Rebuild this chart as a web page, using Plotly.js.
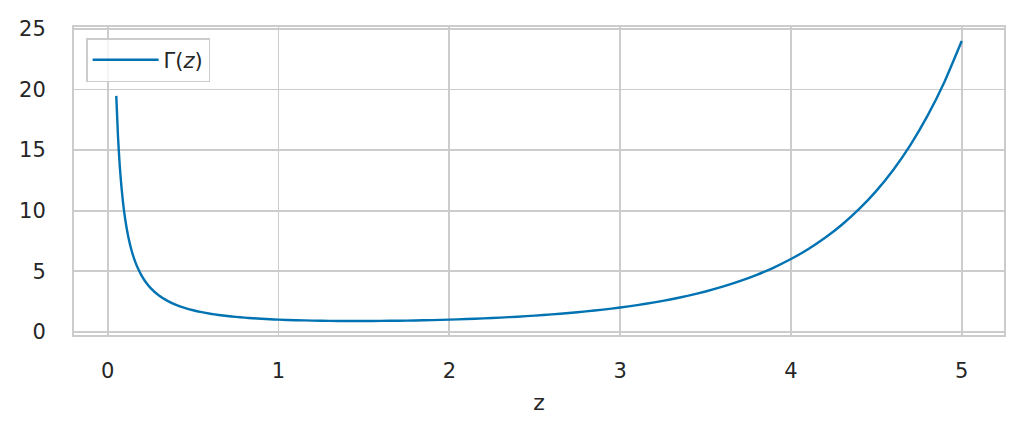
<!DOCTYPE html>
<html>
<head>
<meta charset="utf-8">
<script src="https://cdn.plot.ly/plotly-3.0.1.min.js"></script>
<style>html,body{margin:0;padding:0;background:#fff;}#chart{width:1024px;height:439px;}</style>
</head>
<body>
<div id="chart"></div>
<script>
const zValues = [0.05,0.06,0.07,0.08,0.09,0.10,0.12,0.14,0.16,0.18,0.20,0.22,0.25,0.30,0.35,0.40,0.45,0.50,0.55,0.60,0.65,0.70,0.75,0.80,0.85,0.90,0.95,1.0,1.1,1.2,1.3,1.4,1.5,1.6,1.7,1.8,1.9,2.0,2.1,2.2,2.3,2.4,2.5,2.6,2.7,2.8,2.9,3.0,3.1,3.2,3.3,3.4,3.5,3.6,3.7,3.8,3.9,4.0,4.1,4.2,4.3,4.4,4.5,4.6,4.7,4.8,4.9,5.0];
const gammaValues = [19.470,16.145,13.773,11.997,10.616,9.514,7.862,6.688,5.812,5.133,4.591,4.153,3.626,2.992,2.546,2.218,1.968,1.772,1.616,1.489,1.385,1.298,1.225,1.164,1.113,1.069,1.032,1.000,0.951,0.918,0.897,0.887,0.886,0.894,0.909,0.931,0.962,1.000,1.047,1.102,1.167,1.242,1.329,1.430,1.545,1.676,1.827,2.000,2.198,2.424,2.683,2.981,3.323,3.717,4.171,4.694,5.299,6.000,6.813,7.757,8.855,10.136,11.632,13.381,15.431,17.837,20.667,24.000];
const xTicks = [0,1,2,3,4,5];
const yTicks = [0,5,10,15,20,25];
const seriesName = "Γ(<i>z</i>)";
const xTitle = "z";

const trace = {
  x: zValues, y: gammaValues, type: 'scatter', mode: 'lines', name: seriesName,
  line: {color: '#0173b2', width: 2.4, shape: 'spline', smoothing: 0.5}
};
const axisCommon = {
  showline: true, linecolor: '#cccccc', linewidth: 2, mirror: true,
  showgrid: true, gridcolor: '#cccccc', gridwidth: 1.8, zeroline: false,
  ticks: '', tickfont: {family: 'DejaVu Sans', size: 21, color: '#262626'}
};
const layout = {
  width: 1024, height: 439,
  margin: {l: 74, r: 20, t: 27, b: 104},
  paper_bgcolor: '#ffffff', plot_bgcolor: '#ffffff',
  font: {family: 'DejaVu Sans', color: '#262626'},
  xaxis: Object.assign({}, axisCommon, {
    range: [-0.1975, 5.2475], tickvals: xTicks, ticktext: xTicks.map(String),
    ticklabelstandoff: 16,
    title: {text: xTitle, font: {family: 'DejaVu Sans', size: 22, color: '#262626'}, standoff: 12}
  }),
  yaxis: Object.assign({}, axisCommon, {
    range: [-0.27, 25.16], tickvals: yTicks, ticktext: yTicks.map(String),
    ticklabelstandoff: 22
  }),
  showlegend: true,
  legend: {
    x: 0.013, y: 0.964, xanchor: 'left', yanchor: 'top',
    bgcolor: 'rgba(255,255,255,0.8)', bordercolor: '#cccccc', borderwidth: 1.5,
    font: {family: 'DejaVu Sans', size: 21, color: '#262626'},
    itemwidth: 66
  }
};
Plotly.newPlot('chart', [trace], layout, {displayModeBar: false, staticPlot: true});
</script>
</body>
</html>
